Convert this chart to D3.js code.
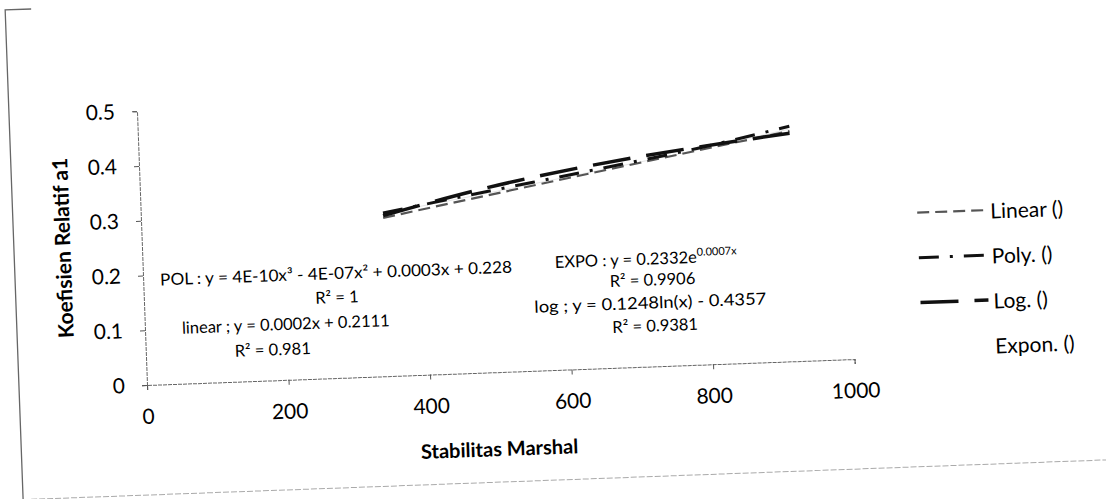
<!DOCTYPE html>
<html>
<head>
<meta charset="utf-8">
<title>Koefisien Relatif a1 - Stabilitas Marshal</title>
<script src="https://cdn.jsdelivr.net/npm/d3@7"></script>
<style>
  html, body { margin: 0; padding: 0; background: #fff; }
  svg text { font-family: Lato, "Open Sans", sans-serif; fill: #000; }
</style>
</head>
<body>
<div id="chart"></div>
<script>
// trendline points (x = Stabilitas Marshal)
var trendX  = [342, 490, 640, 790, 920];
var linearY = [0.289, 0.323, 0.357, 0.391, 0.420];
var polyY   = [0.298, 0.330, 0.362, 0.395, 0.429];
var logY    = [0.293, 0.337, 0.371, 0.397, 0.416];
var expoY   = [0.297, 0.327, 0.359, 0.392, 0.424];

var seriesNames = ['Linear ()', 'Poly. ()', 'Log. ()', 'Expon. ()'];
var xTicks = [0, 200, 400, 600, 800, 1000];
var yTicks = [0, 0.1, 0.2, 0.3, 0.4, 0.5];

// line look for each series (same order as seriesNames)
var looks = [
  {stroke: '#555', width: 2.2, dash: '12,6'},
  {stroke: '#111', width: 3,   dash: '20,11,3,11'},
  {stroke: '#111', width: 3.5, dash: '38,16'},
  {stroke: '#e6e6e6', width: 1, dash: null}
];

var svg = d3.select('#chart').append('svg')
  .attr('width', 1106)
  .attr('height', 499);

// the scan is a little tilted, so everything sits in one rotated group
var page = svg.append('g').attr('transform', 'rotate(-2.1,147,385)');

// chart-area frame: only the left edge and a faint bottom edge show
page.append('path')
  .attr('d', 'M45,5 L19,5 L19,495')
  .attr('fill', 'none')
  .attr('stroke', '#666')
  .attr('stroke-width', 1.3);
page.append('path')
  .attr('d', 'M19,495 L1300,495')
  .attr('fill', 'none')
  .attr('stroke', '#aaa')
  .attr('stroke-width', 1)
  .attr('stroke-dasharray', '6,2');

var plot = page.append('g').attr('transform', 'translate(147,385)');

var x = d3.scaleLinear().domain([0, 1000]).range([0, 708]);
var y = d3.scaleLinear().domain([0, 0.5]).range([0, -274]);

var xAxis = plot.append('g')
  .call(d3.axisBottom(x).tickValues(xTicks).tickFormat(d3.format('d')).tickSize(5).tickPadding(19));
var yAxis = plot.append('g')
  .call(d3.axisLeft(y).tickValues(yTicks)
    .tickFormat(function(d) { return d === 0 ? '0' : d3.format('.1f')(d); })
    .tickSize(5).tickPadding(17));

[xAxis, yAxis].forEach(function(a) {
  a.select('.domain').attr('stroke', '#666').attr('stroke-dasharray', '4,1');
  a.selectAll('.tick line').attr('stroke', '#555');
  a.selectAll('.tick text')
    .style('font-family', 'Lato, sans-serif')
    .style('font-size', '21px')
    .attr('fill', '#000');
});

// axis titles
plot.append('text')
  .attr('x', 350).attr('y', 76)
  .attr('text-anchor', 'middle')
  .attr('dominant-baseline', 'central')
  .style('font-size', '20px')
  .style('font-weight', 'bold')
  .text('Stabilitas Marshal');

plot.append('text')
  .attr('transform', 'translate(-80,-140) rotate(-90)')
  .attr('text-anchor', 'middle')
  .attr('dominant-baseline', 'central')
  .style('font-size', '21px')
  .style('font-weight', 'bold')
  .text('Koefisien Relatif a1');

// trendlines
var allY = [linearY, polyY, logY, expoY];
var line = d3.line()
  .x(function(d) { return x(d[0]); })
  .y(function(d) { return y(d[1]); })
  .curve(d3.curveMonotoneX);

var drawOrder = [3, 0, 1, 2];
drawOrder.forEach(function(i) {
  var pts = trendX.map(function(v, k) { return [v, allY[i][k]]; });
  plot.append('path')
    .datum(pts)
    .attr('d', line)
    .attr('fill', 'none')
    .attr('stroke', looks[i].stroke)
    .attr('stroke-width', looks[i].width)
    .attr('stroke-dasharray', looks[i].dash);
});

// equation labels
function label(txt, px, py, anchor) {
  return plot.append('text')
    .attr('x', px).attr('y', py)
    .attr('text-anchor', anchor || 'start')
    .attr('dominant-baseline', 'central')
    .style('font-size', '16.5px')
    .text(txt);
}

label('POL : y = 4E-10x³ - 4E-07x² + 0.0003x + 0.228', 17, -105)
  .attr('textLength', 352).attr('lengthAdjust', 'spacingAndGlyphs');
label('R² = 1', 193, -81, 'middle');
label('linear ; y = 0.0002x + 0.2111', 37, -56);
label('R² = 0.981', 127, -31, 'middle');

var expo = label('EXPO : y = 0.2332e', 412, -108);
expo.append('tspan')
  .attr('dy', -6)
  .style('font-size', '11px')
  .text('0.0007x');
label('R² = 0.9906', 509, -87, 'middle');
label('log ; y = 0.1248ln(x) - 0.4357', 390, -64)
  .attr('textLength', 232).attr('lengthAdjust', 'spacingAndGlyphs');
label('R² = 0.9381', 510, -41, 'middle');

// legend
var legY = [-144, -99, -54, -9];
seriesNames.forEach(function(name, i) {
  if (looks[i].dash) {
    plot.append('line')
      .attr('x1', 776).attr('x2', 844)
      .attr('y1', legY[i]).attr('y2', legY[i])
      .attr('stroke', looks[i].stroke)
      .attr('stroke-width', looks[i].width)
      .attr('stroke-dasharray', looks[i].dash);
  }
  plot.append('text')
    .attr('x', 849).attr('y', legY[i])
    .attr('dominant-baseline', 'central')
    .style('font-size', '21px')
    .text(name);
});
</script>
</body>
</html>
